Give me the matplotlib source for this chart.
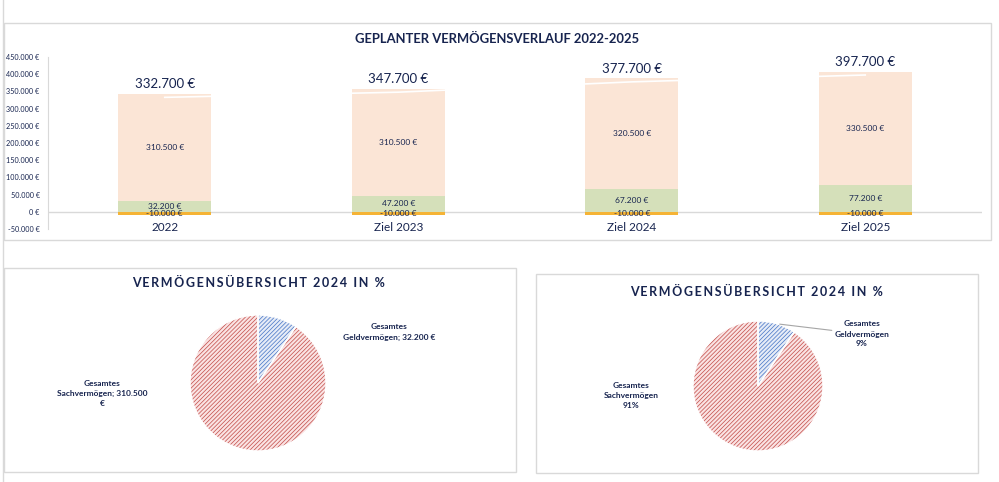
import matplotlib
matplotlib.use("Agg")
import matplotlib.pyplot as plt
from matplotlib.patches import Rectangle
from matplotlib.lines import Line2D
import numpy as np

# ---------- data ----------
categories = ["2022", "Ziel 2023", "Ziel 2024", "Ziel 2025"]
schulden = [-10000, -10000, -10000, -10000]
geldvermoegen = [32200, 47200, 67200, 77200]
sachvermoegen = [310500, 310500, 320500, 330500]
gesamt = [332700, 347700, 377700, 397700]

pie_labels = ["Gesamtes\nGeldvermögen", "Gesamtes\nSachvermögen"]
pie_values = [32200, 310500]

title_bar = "GEPLANTER VERMÖGENSVERLAUF 2022-2025"
title_pie = "VERMÖGENSÜBERSICHT 2024 IN %"

NAVY = "#17244F"
GRID = "#D9D9D9"
FONT = ["Lato", "DejaVu Sans"]

plt.rcParams["font.family"] = FONT
plt.rcParams["hatch.linewidth"] = 0.55

W, H = 999, 482
fig = plt.figure(figsize=(W / 100, H / 100), dpi=100)


def px_axes(x0, y0, x1, y1):
    # pixel box (top-left origin) -> figure axes
    return fig.add_axes([x0 / W, 1 - y1 / H, (x1 - x0) / W, (y1 - y0) / H])


def px_box(x0, y0, x1, y1):
    fig.patches.append(Rectangle((x0 / W, 1 - y1 / H), (x1 - x0) / W, (y1 - y0) / H,
                                 transform=fig.transFigure, fill=False,
                                 edgecolor=GRID, lw=1.0))


def euro(v):
    return f"{v:,.0f}".replace(",", ".") + " €"


def spaced(s):
    return "\u2009".join(s)


# spreadsheet grid on the left edge
fig.lines.append(Line2D([3 / W, 3 / W], [0, 1], transform=fig.transFigure, color=GRID, lw=1))

# chart boxes
px_box(4, 23, 991, 240)
px_box(4, 268, 516, 472)
px_box(536, 274, 978, 473)

# ---------- stacked bar chart ----------
ax = px_axes(48, 57, 982, 229)
x = np.arange(len(categories))
bw = 0.4
ax.bar(x, schulden, bw, color="#F5B335", zorder=2)
ax.bar(x, geldvermoegen, bw, color="#D5E0BA", zorder=2)
ax.bar(x, sachvermoegen, bw, bottom=geldvermoegen, color="#FBE5D6", zorder=2)
ax.plot(x, gesamt, color="white", lw=1.2, zorder=3)

for i in range(len(categories)):
    ax.text(x[i], sachvermoegen[i] / 2 + geldvermoegen[i], euro(sachvermoegen[i]),
            ha="center", va="center", fontsize=6, color=NAVY, zorder=4)
    ax.text(x[i], geldvermoegen[i] / 2, euro(geldvermoegen[i]),
            ha="center", va="center", fontsize=6, color=NAVY, zorder=4)
    ax.text(x[i], schulden[i] / 2, euro(schulden[i]),
            ha="center", va="center", fontsize=6, color=NAVY, zorder=4)
    ax.annotate(euro(gesamt[i]), (x[i], gesamt[i]), xytext=(0, 9.5),
                textcoords="offset points", ha="center", va="center",
                fontsize=9.5, color=NAVY, zorder=4)
    ax.text(x[i], -46500, categories[i], ha="center", va="center",
            fontsize=8.5, color=NAVY)

ax.set_xlim(-0.5, len(categories) - 0.5)
ax.set_ylim(-50000, 450000)
ticks = np.arange(-50000, 450001, 50000)
ax.set_yticks(ticks)
ax.set_yticklabels([euro(t) for t in ticks], fontsize=5.2, color=NAVY)
ax.set_xticks([])
ax.tick_params(axis="y", length=0, pad=6)
for s in ["top", "right", "bottom"]:
    ax.spines[s].set_visible(False)
ax.spines["left"].set_color(GRID)
ax.axhline(0, color=GRID, lw=1, zorder=1)
ax.set_facecolor("none")

fig.text(497 / W, 1 - 39 / H, title_bar, ha="center", va="center",
         fontsize=9.4, fontweight="bold", color=NAVY)

# ---------- pie charts ----------
total = sum(pie_values)
pie_face = ["#E6ECF7", "#FAE3E3"]
pie_hatch = ["#4F7BC8", "#C65552"]


def draw_pie(a):
    wedges, _ = a.pie(pie_values, startangle=90, counterclock=False, radius=1)
    for w, fc, hc in zip(wedges, pie_face, pie_hatch):
        w.set_facecolor(fc)
        w.set_edgecolor(hc)
        w.set_hatch("////////")
        w.set_linewidth(0)
    outline, _ = a.pie(pie_values, startangle=90, counterclock=False, radius=1)
    for w in outline:
        w.set_facecolor("none")
        w.set_edgecolor("white")
        w.set_linewidth(1.0)
    a.set_xlim(-1, 1)
    a.set_ylim(-1, 1)
    a.set_aspect("equal")
    a.axis("off")
    return wedges


# left pie: absolute values
axl = px_axes(190, 315, 326, 451)
draw_pie(axl)
axl.text(1.93, 0.75, pie_labels[0] + "; " + euro(pie_values[0]),
         ha="center", va="center", fontsize=6, fontweight="bold", color=NAVY,
         linespacing=1.5)
axl.text(-2.29, -0.16, pie_labels[1] + "; " + f"{pie_values[1]:,.0f}".replace(",", ".") + "\n€",
         ha="center", va="center", fontsize=6, fontweight="bold", color=NAVY,
         linespacing=1.5)
fig.text(258 / W, 1 - 283 / H, spaced(title_pie), ha="center", va="center",
         fontsize=9, fontweight="bold", color=NAVY)

# right pie: percentages
axr = px_axes(693, 321, 823, 451)
wr = draw_pie(axr)
pct = [round(v / total * 100) for v in pie_values]
w0 = wr[0]
mid = np.deg2rad((w0.theta1 + w0.theta2) / 2)
axr.annotate(f"{pie_labels[0]}\n{pct[0]}%", xy=(np.cos(mid), np.sin(mid)),
             xytext=(1.6, 0.8), ha="center", va="center", fontsize=6,
             fontweight="bold", color=NAVY, linespacing=1.5,
             arrowprops=dict(arrowstyle="-", color="#A6A6A6", lw=0.8,
                             shrinkA=0, shrinkB=2))
axr.text(-1.95, -0.15, f"{pie_labels[1]}\n{pct[1]}%", ha="center", va="center",
         fontsize=6, fontweight="bold", color=NAVY, linespacing=1.5)
fig.text(757 / W, 1 - 292 / H, spaced(title_pie), ha="center", va="center",
         fontsize=9, fontweight="bold", color=NAVY)

fig.savefig("out.png", dpi=100, facecolor="white")
